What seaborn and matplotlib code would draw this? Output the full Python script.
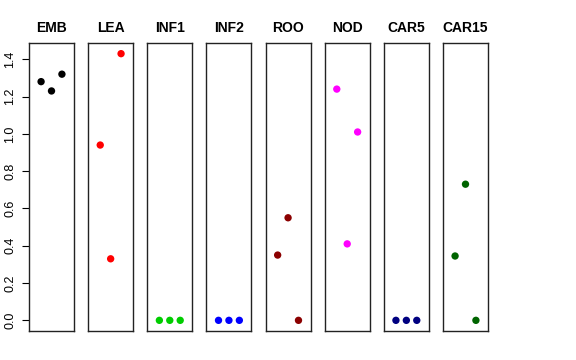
import matplotlib
matplotlib.use("Agg")
import matplotlib.pyplot as plt
import seaborn as sns
import pandas as pd

# ----------------------------------------------------------
# data
# ----------------------------------------------------------

tissues = ["EMB", "LEA", "INF1", "INF2", "ROO", "NOD", "CAR5", "CAR15"]
colors = ["#000000", "#FF0000", "#00CD00", "#0000FF",
          "#8B0000", "#FF00FF", "#000080", "#006400"]
reps = [1, 2, 3]
emb = [1.28, 1.23, 1.32]
lea = [0.94, 0.33, 1.43]
inf1 = [0.0, 0.0, 0.0]
inf2 = [0.0, 0.0, 0.0]
roo = [0.35, 0.55, 0.0]
nod = [1.24, 0.41, 1.01]
car5 = [0.0, 0.0, 0.0]
car15 = [0.345, 0.73, 0.0]
values = [emb, lea, inf1, inf2, roo, nod, car5, car15]

df = pd.DataFrame({
    "tissue": [t for t in tissues for _ in reps],
    "rep": reps * len(tissues),
    "value": [v for vals in values for v in vals],
})

# ----------------------------------------------------------
# plot
# ----------------------------------------------------------

sns.set_style("white")
plt.rcParams["font.family"] = ["Liberation Sans", "DejaVu Sans"]
plt.rcParams["text.color"] = "black"
plt.rcParams["ytick.color"] = "black"

fig, axes = plt.subplots(1, len(tissues), figsize=(5.76, 3.6), dpi=100, sharey=True)
fig.subplots_adjust(left=29 / 576, right=488 / 576, top=1 - 43 / 360,
                    bottom=1 - 331 / 360, wspace=0.314)

ymax = df["value"].max()
for ax, tissue, col in zip(axes, tissues, colors):
    sub = df[df["tissue"] == tissue]
    sns.scatterplot(data=sub, x="rep", y="value", color=col, s=28,
                    edgecolor="none", ax=ax)
    ax.set_xlim(-0.16, 4.16)
    ax.set_ylim(-0.04 * ymax, ymax * 1.04)
    ax.set_title(tissue, fontsize=10, fontweight="bold", pad=8, color="black")
    ax.set_xticks([])
    ax.set_xlabel("")
    ax.set_ylabel("")
    for sp in ax.spines.values():
        sp.set_color("#222222")
        sp.set_linewidth(1)

axes[0].set_yticks([0.0, 0.2, 0.4, 0.6, 0.8, 1.0, 1.2, 1.4])
axes[0].set_yticklabels(["0.0", "0.2", "0.4", "0.6", "0.8", "1.0", "1.2", "1.4"],
                        rotation=90, va="center", fontsize=9, color="black")
axes[0].tick_params(axis="y", direction="out", length=5, width=0.8, left=True,
                    pad=4, colors="black")
for ax in axes[1:]:
    ax.tick_params(axis="y", left=False, labelleft=False)

fig.savefig("out.png", dpi=100)
